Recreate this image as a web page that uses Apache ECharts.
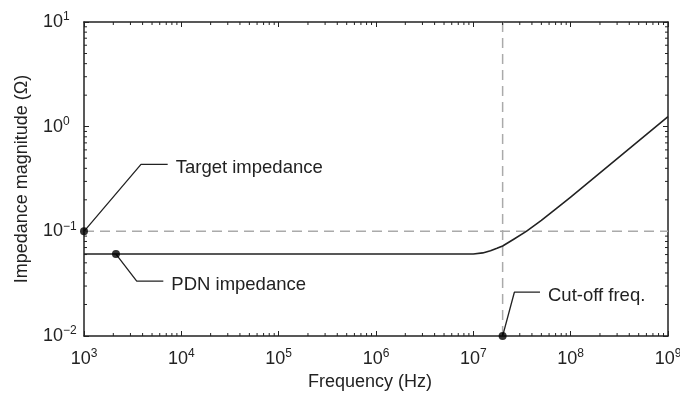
<!DOCTYPE html>
<html>
<head>
<meta charset="utf-8">
<script src="https://cdn.jsdelivr.net/npm/echarts@6/dist/echarts.min.js"></script>
<style>
  html, body { margin: 0; padding: 0; background: #fff; }
  #chart { width: 680px; height: 394px; }
</style>
</head>
<body>
<div id="chart"></div>
<script>
// PDN impedance curve (Hz, Ohm)
const freqHz = [1e3, 1e7, 1.25e7, 1.5e7, 1.75e7, 2e7, 2.6e7, 3.5e7, 5e7, 7e7, 1e8, 1e9];
const pdnOhm = [0.0607, 0.0607, 0.0622, 0.0652, 0.0688, 0.0725, 0.084, 0.1, 0.127, 0.163, 0.212, 1.245];

const targetOhm = 0.1;
const cutoffHz = 2e7;

// leader lines: [dot, elbow, end]
const targetLeader = [[1e3, 0.1], [3850, 0.437], [7240, 0.437]];
const pdnLeader = [[2130, 0.0607], [3480, 0.0335], [6530, 0.0335]];
const cutoffLeader = [[2e7, 0.01], [2.64e7, 0.0262], [4.84e7, 0.0262]];

const xMin = 1e3, xMax = 1e9;
const yMin = 1e-2, yMax = 1e1;

// minor ticks 2..9 x 10^k
const xMinorTicks = [];
for (let k = 3; k < 9; k++) for (let m = 2; m <= 9; m++) xMinorTicks.push(m * Math.pow(10, k));
const yMinorTicks = [];
for (let k = -2; k < 1; k++) for (let m = 2; m <= 9; m++) yMinorTicks.push(+(m * Math.pow(10, k)).toPrecision(3));

const ink = "#222";
const font = "'Liberation Sans', Arial, sans-serif";

const powLabel = (v) => {
  const e = Math.round(Math.log10(v));
  return "{b|10}{s|" + (e < 0 ? "\u2212" + -e : e) + "}";
};
const richPow = {
  b: { fontSize: 18, lineHeight: 22, color: ink, fontFamily: font },
  s: { fontSize: 12, lineHeight: 12, verticalAlign: "top", color: ink, fontFamily: font },
};

const lineAxis = { show: true, lineStyle: { color: ink, width: 1.5 } };
const majorTick = { show: true, inside: true, length: 5, lineStyle: { color: ink, width: 1 } };

const myChart = echarts.init(document.getElementById("chart"));

const leaderSeries = (pts, text) => ({
  type: "line",
  data: pts,
  symbol: "none",
  lineStyle: { color: ink, width: 1.3 },
  endLabel: {
    show: true,
    formatter: text,
    distance: 8,
    offset: [0, 4],
    fontSize: 18.5,
    color: ink,
    fontFamily: font,
  },
  z: 4,
  clip: false,
});

const tickSeries = (vals, isX) => ({
  type: "custom",
  data: vals.map((v) => (isX ? [v, yMin] : [xMin, v])),
  clip: false,
  silent: true,
  z: 5,
  renderItem: (params, api) => {
    const len = 3;
    const style = { stroke: ink, lineWidth: 1 };
    if (isX) {
      const v = api.value(0);
      const b = api.coord([v, yMin]);
      const t = api.coord([v, yMax]);
      return {
        type: "group",
        children: [
          { type: "line", shape: { x1: b[0], y1: b[1], x2: b[0], y2: b[1] - len }, style },
          { type: "line", shape: { x1: t[0], y1: t[1], x2: t[0], y2: t[1] + len }, style },
        ],
      };
    }
    const v = api.value(1);
    const l = api.coord([xMin, v]);
    const r = api.coord([xMax, v]);
    return {
      type: "group",
      children: [
        { type: "line", shape: { x1: l[0], y1: l[1], x2: l[0] + len, y2: l[1] }, style },
        { type: "line", shape: { x1: r[0], y1: r[1], x2: r[0] - len, y2: r[1] }, style },
      ],
    };
  },
});

myChart.setOption({
  animation: false,
  textStyle: { fontFamily: font },
  grid: { left: 84, right: 12, top: 22, bottom: 58, outerBoundsMode: "none" },
  xAxis: [
    {
      type: "log",
      logBase: 10,
      min: xMin,
      max: xMax,
      name: "Frequency (Hz)",
      nameLocation: "middle",
      nameGap: 35,
      nameTextStyle: { fontSize: 18, color: ink, padding: [0, 12, 0, 0] },
      axisLine: lineAxis,
      axisTick: majorTick,
      splitLine: { show: false },
      axisLabel: {
        margin: 12,
        showMinLabel: true,
        showMaxLabel: true,
        formatter: powLabel,
        rich: richPow,
      },
    },
    {
      type: "log",
      logBase: 10,
      min: xMin,
      max: xMax,
      position: "top",
      axisLine: lineAxis,
      axisTick: majorTick,
      axisLabel: { show: false },
      splitLine: { show: false },
    },
  ],
  yAxis: [
    {
      type: "log",
      logBase: 10,
      min: yMin,
      max: yMax,
      name: "Impedance magnitude (\u03A9)",
      nameLocation: "middle",
      nameGap: 53,
      nameTextStyle: { fontSize: 18, color: ink },
      axisLine: lineAxis,
      axisTick: majorTick,
      splitLine: { show: false },
      axisLabel: {
        align: "left",
        margin: 41,
        showMinLabel: true,
        showMaxLabel: true,
        formatter: powLabel,
        rich: richPow,
      },
    },
    {
      type: "log",
      logBase: 10,
      min: yMin,
      max: yMax,
      position: "right",
      axisLine: lineAxis,
      axisTick: majorTick,
      axisLabel: { show: false },
      splitLine: { show: false },
    },
  ],
  series: [
    {
      name: "Target",
      type: "line",
      data: [[xMin, targetOhm], [xMax, targetOhm]],
      symbol: "none",
      lineStyle: { color: "#aaa", width: 1.5, type: [10, 6] },
      z: 1,
    },
    {
      name: "Cut-off",
      type: "line",
      data: [[cutoffHz, yMin], [cutoffHz, yMax]],
      symbol: "none",
      lineStyle: { color: "#aaa", width: 1.5, type: [10, 6] },
      z: 1,
    },
    {
      name: "PDN",
      type: "line",
      data: freqHz.map((f, i) => [f, pdnOhm[i]]),
      symbol: "none",
      smooth: false,
      lineStyle: { color: ink, width: 1.6, join: "round" },
      z: 3,
    },
    leaderSeries(targetLeader, "Target impedance"),
    leaderSeries(pdnLeader, "PDN impedance"),
    leaderSeries(cutoffLeader, "Cut-off freq."),
    {
      type: "scatter",
      data: [targetLeader[0], pdnLeader[0], cutoffLeader[0]],
      symbolSize: 8,
      itemStyle: { color: "#000" },
      clip: false,
      z: 6,
    },
    tickSeries(xMinorTicks, true),
    tickSeries(yMinorTicks, false),
  ],
});
</script>
</body>
</html>
